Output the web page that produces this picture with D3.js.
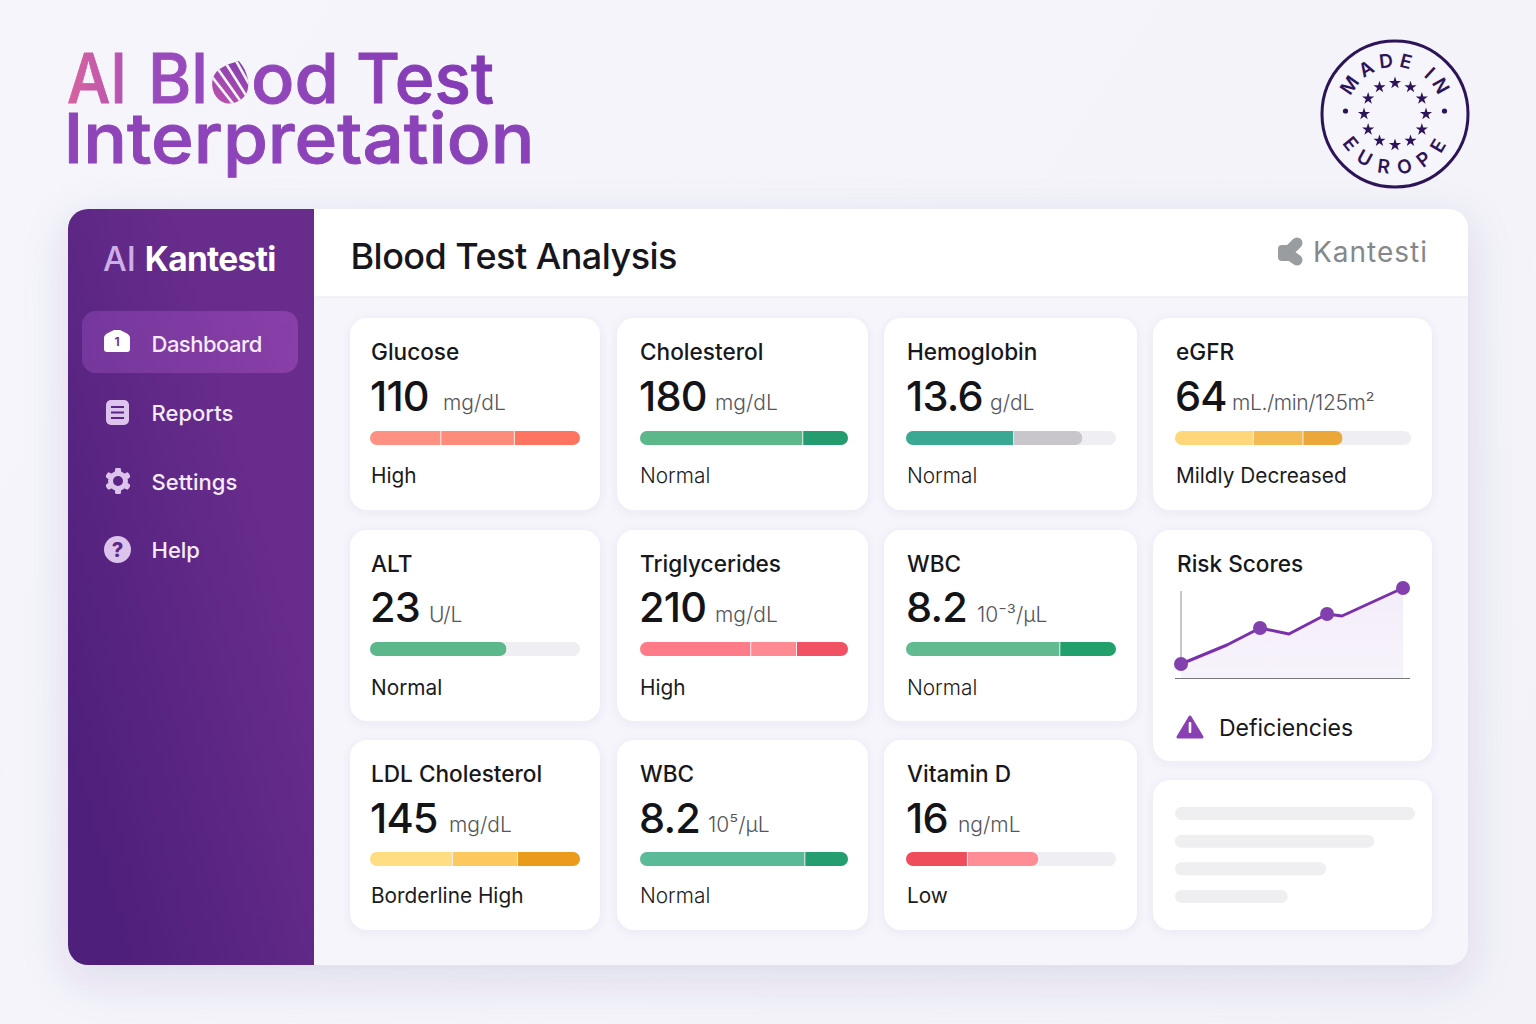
<!DOCTYPE html>
<html>
<head>
  <meta charset="utf-8">
  <title>AI Blood Test Interpretation</title>
  <script src="https://d3js.org/d3.v7.min.js"></script>
  <style>
    html, body { margin: 0; padding: 0; background: #f4f4fa; }
    svg { display: block; }
    text { font-family: Inter, "Noto Sans", sans-serif; }
  </style>
</head>
<body>
<div id="chart"></div>
<script>
// ---- data ----
var metricNames = ["Glucose", "Cholesterol", "Hemoglobin", "eGFR", "ALT", "Triglycerides", "WBC", "LDL Cholesterol", "WBC", "Vitamin D"];
var metricValues = ["110", "180", "13.6", "64", "23", "210", "8.2", "145", "8.2", "16"];
var metricUnits = ["mg/dL", "mg/dL", "g/dL", "mL./min/125m²", "U/L", "mg/dL", "10⁻³/μL", "mg/dL", "10⁵/μL", "ng/mL"];
var metricStatus = ["High", "Normal", "Normal", "Mildly Decreased", "Normal", "High", "Normal", "Borderline High", "Normal", "Low"];
// bar segments in percent of the full track
var barSegments = [
  [33.5, 35, 31.5], [78, 22], [51, 33], [33, 21, 17],
  [65], [53, 22, 25], [73, 27],
  [39, 31, 30], [79, 21], [29, 34]
];
var riskX = [0, 20.7, 35.6, 48.6, 65.8, 72.5, 100];
var riskY = [14, 33, 50, 44, 64, 62, 90];
var riskMarkers = [0, 2, 4, 6];
var skeletonLines = [100, 83, 63, 47];
var navItems = ["Dashboard", "Reports", "Settings", "Help"];

// ---- styles and layout ----
var barColors = [
  ["#ff9182", "#ff8b7b", "#ff7360"], ["#5cb78b", "#259c6f"], ["#3aa892", "#c9c6cb"], ["#ffd679", "#f4bb55", "#eba739"],
  ["#5cb78b"], ["#ff7b88", "#ff8a92", "#f25163"], ["#62ba90", "#22a06b"],
  ["#ffdd82", "#fdc85e", "#ea9b1c"], ["#5bba98", "#249d70"], ["#ef4c5c", "#ff8d95"]
];
var cardCol = [0, 1, 2, 3, 0, 1, 2, 0, 1, 2];
var cardRow = [0, 0, 0, 0, 1, 1, 1, 2, 2, 2];
var colX = [[350, 600], [617, 868], [884, 1137], [1153, 1432]];
var rowY = [[318, 510], [530, 721], [740, 930]];
var textX = [370, 639, 906, 1175];
var barX = [[370, 580], [640, 848], [906, 1116], [1175, 1411]];
var unitX = [443, 715, 990, 1232, 429, 715, 977, 449, 708, 958];
var valueOff = [93, 92, 93], unitOff = [92, 92, 92], barOff = [113, 112, 112], statusOff = [165, 165, 163];

var width = 1536, height = 1024;
var svg = d3.select("#chart").append("svg").attr("width", width).attr("height", height);
var defs = svg.append("defs");

function linear(id, x1, y1, x2, y2, stops) {
  var g = defs.append("linearGradient").attr("id", id).attr("gradientUnits", "userSpaceOnUse")
    .attr("x1", x1).attr("y1", y1).attr("x2", x2).attr("y2", y2);
  stops.forEach(function(s) { g.append("stop").attr("offset", s[0]).attr("stop-color", s[1]); });
}
linear("bg", 0, 0, 1536, 1024, [[0, "#f5f5fb"], [1, "#f2f2f8"]]);
linear("titleTop", 68, 0, 500, 0, [[0, "#d8629f"], [0.11, "#bb55b0"], [0.19, "#9a4cbd"], [1, "#8239b4"]]);
linear("titleBottom", 67, 0, 533, 0, [[0, "#8f44b9"], [1, "#8a42b9"]]);
linear("side", 68, 760, 314, 690, [[0, "#4e1f7b"], [1, "#682c8c"]]);
linear("active", 82, 373, 298, 311, [[0, "#74379c"], [1, "#8a3fa8"]]);
linear("drop", 215, 105, 245, 60, [[0, "#c052ae"], [1, "#7d3cb0"]]);
linear("riskFill", 0, 588, 0, 678, [[0, "#f3edf9"], [1, "#f7f3fb"]]);

var shadow = defs.append("filter").attr("id", "panelShadow")
  .attr("x", "-10%").attr("y", "-10%").attr("width", "120%").attr("height", "125%");
shadow.append("feDropShadow").attr("dx", 0).attr("dy", 14).attr("stdDeviation", 22)
  .attr("flood-color", "#4a3a80").attr("flood-opacity", 0.13);
var cardShadow = defs.append("filter").attr("id", "cardShadow")
  .attr("x", "-10%").attr("y", "-10%").attr("width", "120%").attr("height", "125%");
cardShadow.append("feDropShadow").attr("dx", 0).attr("dy", 2).attr("stdDeviation", 5)
  .attr("flood-color", "#5a5090").attr("flood-opacity", 0.07);

svg.append("rect").attr("width", width).attr("height", height).attr("fill", "url(#bg)");

// ---- page title ----
function titlePiece(txt, x, y, len, fill) {
  svg.append("text").attr("x", x).attr("y", y).attr("textLength", len).attr("lengthAdjust", "spacingAndGlyphs")
    .attr("font-size", 69).attr("font-weight", 500).attr("fill", fill)
    .attr("stroke", fill).attr("stroke-width", 0.9).text(txt);
}
titlePiece("AI", 67, 102.5, 60, "url(#titleTop)");
titlePiece("Bl", 148, 102.5, 60, "url(#titleTop)");
titlePiece("od", 251, 102.5, 88, "url(#titleTop)");
titlePiece("Test", 356, 102.5, 138, "url(#titleTop)");
titlePiece("Interpretation", 63.5, 163, 471, "url(#titleBottom)");

// blood drop in place of the first o
var dropPath = "M239 61C248 72 250 84 247 92C243 101 233 105 225 103C215 100 210 88 213 78C216 68 228 64 239 61Z";
defs.append("clipPath").attr("id", "dropClip").append("path").attr("d", dropPath);
svg.append("path").attr("d", dropPath).attr("fill", "url(#drop)");
svg.append("g").attr("clip-path", "url(#dropClip)").selectAll("line")
  .data(d3.range(5)).join("line")
  .attr("x1", function(d) { return 205 + d * 10; }).attr("y1", function(d) { return 68 - d * 3; })
  .attr("x2", function(d) { return 238 + d * 8; }).attr("y2", function(d) { return 110 - d * 1; })
  .attr("stroke", "#f4f4fa").attr("stroke-width", 2.6);

// ---- made in europe badge ----
var badge = svg.append("g").attr("transform", "translate(1395,114)");
badge.append("circle").attr("r", 73).attr("fill", "#f5f5fb").attr("stroke", "#2d1459").attr("stroke-width", 3);
var arcTop = d3.path(); arcTop.arc(0, 0, 47, Math.PI, 0, false);
var arcBottom = d3.path(); arcBottom.arc(0, 0, 60, Math.PI, 0, true);
defs.append("path").attr("id", "arcTop").attr("d", arcTop.toString());
defs.append("path").attr("id", "arcBottom").attr("d", arcBottom.toString());
[["arcTop", "MADE IN", 5, 2], ["arcBottom", "EUROPE", 10, -4]].forEach(function(a) {
  badge.append("text").attr("text-anchor", "middle").attr("font-size", 19).attr("font-weight", 600)
    .attr("letter-spacing", a[2]).attr("fill", "#2d1459").attr("transform", "rotate(" + a[3] + ")")
    .append("textPath").attr("href", "#" + a[0]).attr("startOffset", "50%").text(a[1]);
});
var star = d3.symbol().type(d3.symbolStar).size(46);
badge.selectAll("path.star").data(d3.range(12)).join("path").attr("class", "star")
  .attr("d", star).attr("fill", "#2d1459")
  .attr("transform", function(d) {
    var a = d / 12 * 2 * Math.PI;
    return "translate(" + (31 * Math.sin(a)) + "," + (-31 * Math.cos(a)) + ")";
  });
badge.selectAll("circle.dot").data([-1, 1]).join("circle").attr("class", "dot")
  .attr("cx", function(d) { return d * 49.5; }).attr("cy", -3).attr("r", 2.6).attr("fill", "#2d1459");

// ---- dashboard panel ----
svg.append("rect").attr("x", 68).attr("y", 209).attr("width", 1400).attr("height", 756).attr("rx", 20)
  .attr("fill", "#f5f5fb").attr("filter", "url(#panelShadow)");
svg.append("path").attr("d", "M314 209H1448a20 20 0 0 1 20 20V297H314Z").attr("fill", "#fff");
svg.append("line").attr("x1", 314).attr("x2", 1468).attr("y1", 297).attr("y2", 297).attr("stroke", "#e9e9ef");
svg.append("path").attr("d", "M88 209H314V965H88a20 20 0 0 1 -20 -20V229a20 20 0 0 1 20 -20Z").attr("fill", "url(#side)");

svg.append("text").attr("x", 350.5).attr("y", 269).attr("font-size", 36).attr("font-weight", 500).attr("fill", "#16161c")
  .attr("textLength", 327).text("Blood Test Analysis");
svg.append("text").attr("x", 1313).attr("y", 262).attr("font-size", 28).attr("letter-spacing", 1).attr("fill", "#85888b").text("Kantesti");
var logo = svg.append("g").attr("fill", "#9a9d9f");
logo.append("rect").attr("x", 1278).attr("y", 245).attr("width", 14).attr("height", 16).attr("rx", 4);
logo.selectAll("line").data([243, 260]).join("line")
  .attr("x1", 1287).attr("y1", 253).attr("x2", 1297).attr("y2", function(d) { return d; })
  .attr("stroke", "#9a9d9f").attr("stroke-width", 11).attr("stroke-linecap", "round");

// ---- sidebar ----
var brand = svg.append("text").attr("x", 103).attr("y", 271).attr("font-size", 33.5);
brand.append("tspan").attr("fill", "#cdaee6").attr("font-weight", 500).text("AI ");
brand.append("tspan").attr("fill", "#fff").attr("font-weight", 700).attr("letter-spacing", -0.7).text("Kantesti");
svg.append("rect").attr("x", 82).attr("y", 311).attr("width", 216).attr("height", 62).attr("rx", 14).attr("fill", "url(#active)");
var navBase = [352, 421, 490, 558];
svg.selectAll("text.nav").data(navItems).join("text").attr("class", "nav")
  .attr("x", 151.5).attr("y", function(d, i) { return navBase[i]; })
  .attr("font-size", 22).attr("font-weight", 500).attr("fill", "#f5ebfb")
  .attr("letter-spacing", function(d, i) { return i === 0 ? -0.5 : 0; })
  .text(function(d) { return d; });

// nav icons
var iconLight = "#dcc4ec";
svg.append("path").attr("d", "M104 338Q104 335 108 333L114 330H120L126 333Q130 335 130 338V349Q130 352 127 352H107Q104 352 104 349Z").attr("fill", "#fff");
svg.append("text").attr("x", 117).attr("y", 346).attr("text-anchor", "middle").attr("font-size", 12).attr("font-weight", 700).attr("fill", "#6f3596").text("1");
svg.append("rect").attr("x", 106).attr("y", 400).attr("width", 23).attr("height", 25).attr("rx", 5).attr("fill", iconLight);
svg.selectAll("line.rep").data([407, 412.5, 418]).join("line").attr("class", "rep")
  .attr("x1", 111).attr("x2", 124).attr("y1", function(d) { return d; }).attr("y2", function(d) { return d; })
  .attr("stroke", "#5a2585").attr("stroke-width", 2);
var gear = svg.append("g").attr("transform", "translate(118,481)");
gear.selectAll("rect").data(d3.range(6)).join("rect")
  .attr("x", -3).attr("y", -13).attr("width", 6).attr("height", 26).attr("rx", 2).attr("fill", iconLight)
  .attr("transform", function(d) { return "rotate(" + (d * 60) + ")"; });
gear.append("circle").attr("r", 10).attr("fill", iconLight);
gear.append("circle").attr("r", 5).attr("fill", "#5a2585");
svg.append("circle").attr("cx", 117.5).attr("cy", 549.5).attr("r", 13.5).attr("fill", iconLight);
svg.append("text").attr("x", 117.5).attr("y", 557).attr("text-anchor", "middle").attr("font-size", 20).attr("font-weight", 800).attr("fill", "#5d2887").text("?");

// ---- metric cards ----
metricNames.forEach(function(name, i) {
  var cx = colX[cardCol[i]], cy = rowY[cardRow[i]], tx = textX[cardCol[i]], bx = barX[cardCol[i]], r = cardRow[i];
  var top = cy[0];
  var g = svg.append("g");
  g.append("rect").attr("x", cx[0]).attr("y", top).attr("width", cx[1] - cx[0]).attr("height", cy[1] - top)
    .attr("rx", 17).attr("fill", "#fff").attr("filter", "url(#cardShadow)");
  g.append("text").attr("x", tx + 1).attr("y", top + 42).attr("font-size", 22.6).attr("font-weight", 500).attr("fill", "#17171c").text(name);
  g.append("text").attr("x", tx).attr("y", top + valueOff[r]).attr("font-size", 41.5).attr("font-weight", 500)
    .attr("letter-spacing", -0.8).attr("fill", "#141418").text(metricValues[i]);
  g.append("text").attr("x", unitX[i]).attr("y", top + unitOff[r]).attr("font-size", 21).attr("font-weight", 300)
    .attr("letter-spacing", i === 3 ? -0.4 : 0).attr("fill", "#55555c").text(metricUnits[i]);

  var x = d3.scaleLinear().domain([0, 100]).range(bx);
  var barTop = top + barOff[r], barH = 14;
  g.append("rect").attr("x", x(0)).attr("y", barTop).attr("width", x(100) - x(0)).attr("height", barH).attr("rx", 7).attr("fill", "#efeff3");
  var total = d3.sum(barSegments[i]);
  var clipId = "barClip" + i;
  defs.append("clipPath").attr("id", clipId).append("rect")
    .attr("x", x(0)).attr("y", barTop).attr("width", x(total) - x(0)).attr("height", barH).attr("rx", 7);
  var cum = d3.cumsum(barSegments[i]);
  g.append("g").attr("clip-path", "url(#" + clipId + ")").selectAll("rect")
    .data(barSegments[i]).join("rect")
    .attr("x", function(d, j) { return x(cum[j] - d) + (j ? 1 : 0); })
    .attr("y", barTop)
    .attr("width", function(d, j) { return x(cum[j]) - x(cum[j] - d) - (j ? 1 : 0); })
    .attr("height", barH)
    .attr("fill", function(d, j) { return barColors[i][j]; });
  g.append("text").attr("x", tx + 1).attr("y", top + statusOff[r]).attr("font-size", 20.8)
    .attr("font-weight", metricStatus[i] === "Normal" && i !== 4 ? 300 : 400).attr("fill", "#1b1b20").text(metricStatus[i]);
});

// ---- risk scores card ----
svg.append("rect").attr("x", 1153).attr("y", 530).attr("width", 279).attr("height", 231).attr("rx", 17).attr("fill", "#fff").attr("filter", "url(#cardShadow)");
svg.append("text").attr("x", 1177).attr("y", 572).attr("font-size", 22.6).attr("font-weight", 500).attr("fill", "#17171c").text("Risk Scores");
var rx = d3.scaleLinear().domain([0, 100]).range([1181, 1403]);
var ry = d3.scaleLinear().domain([0, 100]).range([678, 578]);
var riskPts = riskX.map(function(d, i) { return [d, riskY[i]]; });
var area = d3.area().x(function(d) { return rx(d[0]); }).y0(ry(0)).y1(function(d) { return ry(d[1]); });
var line = d3.line().x(function(d) { return rx(d[0]); }).y(function(d) { return ry(d[1]); });
svg.append("path").attr("d", area(riskPts)).attr("fill", "url(#riskFill)");
svg.append("line").attr("x1", 1181).attr("x2", 1181).attr("y1", 591).attr("y2", 664).attr("stroke", "#8f8f96");
svg.append("line").attr("x1", 1175).attr("x2", 1410).attr("y1", 678.5).attr("y2", 678.5).attr("stroke", "#77777f");
svg.append("path").attr("d", line(riskPts)).attr("fill", "none").attr("stroke", "#7a30ab").attr("stroke-width", 3).attr("stroke-linejoin", "round");
svg.selectAll("circle.risk").data(riskMarkers).join("circle").attr("class", "risk")
  .attr("cx", function(d) { return rx(riskX[d]); }).attr("cy", function(d) { return ry(riskY[d]); })
  .attr("r", 7).attr("fill", "#8240ae");
svg.append("path").attr("d", "M1190 717L1202 737H1178Z").attr("fill", "#8a3fb5").attr("stroke", "#8a3fb5").attr("stroke-width", 3).attr("stroke-linejoin", "round");
svg.append("rect").attr("x", 1188.7).attr("y", 722).attr("width", 2.6).attr("height", 11).attr("rx", 1).attr("fill", "#fff");
svg.append("text").attr("x", 1219).attr("y", 736).attr("font-size", 23).attr("fill", "#17171c").text("Deficiencies");

// ---- placeholder card ----
svg.append("rect").attr("x", 1153).attr("y", 780).attr("width", 279).attr("height", 150).attr("rx", 17).attr("fill", "#fff").attr("filter", "url(#cardShadow)");
var sk = d3.scaleLinear().domain([0, 100]).range([1175, 1415]);
var skY = d3.scalePoint().domain(d3.range(skeletonLines.length)).range([807, 890]);
svg.selectAll("rect.sk").data(skeletonLines).join("rect").attr("class", "sk")
  .attr("x", sk(0)).attr("y", function(d, i) { return skY(i); })
  .attr("width", function(d) { return sk(d) - sk(0); }).attr("height", 13).attr("rx", 6.5).attr("fill", "#efeff2");
</script>
</body>
</html>
